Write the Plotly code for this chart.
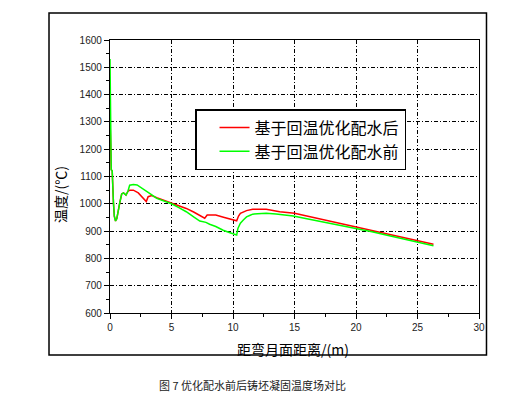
import plotly.graph_objects as go

# ---- data ----
after_x = [0, 0.04, 0.1, 0.18, 0.22, 0.28, 0.35, 0.45, 0.55, 0.65, 0.8, 0.95, 1.1, 1.3,
           1.45, 1.6, 1.9, 2.3, 2.7, 2.95, 3.1, 3.4, 3.8, 4.4, 5.0, 5.6, 6.2, 6.8, 7.3,
           7.55, 7.7, 7.9, 8.6, 9.3, 10.0, 10.3, 10.45, 10.6, 11.1, 11.6, 12.7, 13.8,
           15.0, 16.0, 17.3, 18.6, 20.0, 21.4, 22.8, 24.0, 25.0, 26.3]
after_y = [1320, 1230, 1125, 1120, 1015, 1005, 955, 937, 945, 975, 1005, 1036, 1040, 1032,
           1045, 1050, 1050, 1040, 1020, 1008, 1026, 1030, 1022, 1012, 1002, 993, 983, 970, 958,
           953, 947, 959, 959, 950, 941, 938, 955, 965, 975, 980, 980, 971,
           965, 955, 941, 928, 914, 900, 886, 874, 864, 852]

before_x = [0, 0.04, 0.1, 0.18, 0.22, 0.28, 0.35, 0.45, 0.55, 0.65, 0.8, 0.95, 1.1, 1.3,
            1.45, 1.6, 1.9, 2.2, 2.6, 3.0, 3.4, 3.8, 4.4, 5.0, 5.6, 6.2, 6.8, 7.3, 7.8,
            8.1, 8.6, 9.2, 9.7, 10.1, 10.3, 10.4, 10.6, 10.84, 11.1, 11.4, 11.6, 12.0,
            12.7, 13.5, 14.2, 14.9, 16.0, 17.3, 18.6, 20.0, 21.3, 22.8, 24.0, 25.0, 26.3]
before_y = [1530, 1320, 1125, 1120, 1015, 1005, 955, 937, 945, 975, 1005, 1036, 1040, 1032,
            1045, 1068, 1071, 1069, 1058, 1044, 1033, 1020, 1010, 1000, 986, 971, 952, 937, 932,
            925, 917, 903, 895, 888, 886, 910, 929, 941, 952, 958, 962, 964,
            965, 963, 960, 955, 945, 934, 922, 910, 898, 882, 869, 858, 846]

series_names = ["基于回温优化配水后", "基于回温优化配水前"]
x_title = "距弯月面距离/(m)"
y_title = "温度/(℃)"
caption = "图 7 优化配水前后铸坯凝固温度场对比"

CJK = "Noto Sans CJK SC"
TICKF = "Liberation Sans, Arial"

fig = go.Figure()
fig.add_trace(go.Scatter(x=after_x, y=after_y, mode="lines", name=series_names[0],
                         line=dict(color="#ff0000", width=1.5)))
fig.add_trace(go.Scatter(x=before_x, y=before_y, mode="lines", name=series_names[1],
                         line=dict(color="#00ff00", width=1.5)))

grid = "4px,2px,1px,2px"
fig.update_xaxes(range=[0, 30], dtick=5, tick0=0, showline=True, linecolor="black",
                 linewidth=1.3, mirror=True, ticks="outside", ticklen=5, tickwidth=1,
                 tickcolor="black", showgrid=True, gridcolor="black", gridwidth=1,
                 griddash=grid, zeroline=False,
                 minor=dict(dtick=2.5, ticks="outside", ticklen=3, tickcolor="black",
                            showgrid=False),
                 tickfont=dict(family=TICKF, size=10, color="#222"))
fig.update_yaxes(range=[600, 1600], dtick=100, tick0=600, showline=True, linecolor="black",
                 linewidth=1.3, mirror=True, ticks="outside", ticklen=5, tickwidth=1,
                 tickcolor="black", showgrid=True, gridcolor="black", gridwidth=1,
                 griddash=grid, zeroline=False,
                 minor=dict(dtick=50, ticks="outside", ticklen=3, tickcolor="black",
                            showgrid=False),
                 tickfont=dict(family=TICKF, size=10, color="#222"))

fig.update_layout(
    width=507, height=389,
    margin=dict(l=102, r=36, t=32, b=84),
    paper_bgcolor="white", plot_bgcolor="white",
    showlegend=True,
    legend=dict(x=0.2304, y=0.747, xanchor="left", yanchor="top",
                bgcolor="white", bordercolor="black", borderwidth=1.5,
                font=dict(family=CJK, size=16, color="black"),
                indentation=18, tracegroupgap=0),
    shapes=[dict(type="rect", xref="paper", yref="paper", x0=-0.1653, x1=1.0203,
                 y0=-0.1538, y1=1.0989, line=dict(color="black", width=1.5), layer="below")],
    annotations=[
        dict(text=x_title, xref="paper", yref="paper", x=0.496, y=-0.132,
             xanchor="center", yanchor="middle", showarrow=False,
             font=dict(family=CJK, size=14, color="black")),
        dict(text=y_title, xref="paper", yref="paper", x=-0.1355, y=0.432,
             xanchor="center", yanchor="middle", showarrow=False, textangle=-90,
             font=dict(family=CJK, size=14, color="black")),
        dict(text=caption, xref="paper", yref="paper", x=0.385, y=-0.2637,
             xanchor="center", yanchor="middle", showarrow=False,
             font=dict(family=CJK, size=11, color="#222")),
    ],
)

fig.write_html("out.html")
